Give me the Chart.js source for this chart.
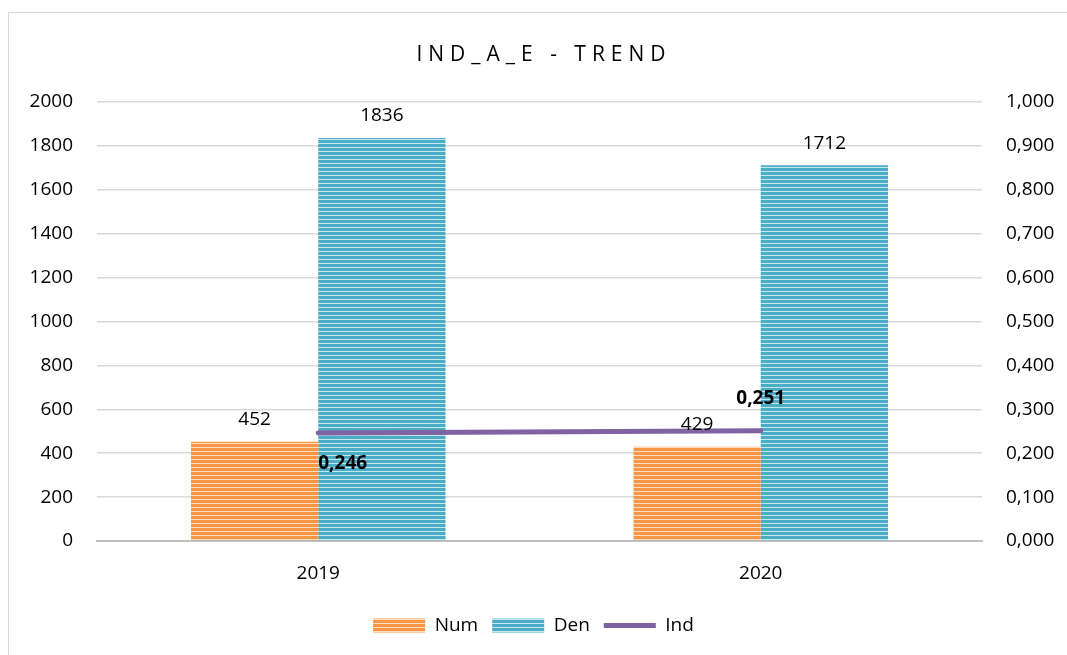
<!DOCTYPE html>
<html>
<head>
<meta charset="utf-8">
<script src="https://cdn.jsdelivr.net/npm/chart.js@4.4.1/dist/chart.umd.min.js"></script>
<style>
html,body{margin:0;padding:0;background:#fff;}
#wrap{position:relative;width:1067px;height:655px;}
</style>
</head>
<body>
<div id="wrap"><canvas id="c" width="1067" height="655"></canvas></div>
<script>
const categories = ['2019', '2020'];
const numValues = [452, 429];
const denValues = [1836, 1712];
const indValues = [0.246, 0.251];
const titleText = 'IND_A_E - TREND';

function stripes(base, light) {
  const c = document.createElement('canvas');
  c.width = 8; c.height = 4;
  const x = c.getContext('2d');
  x.fillStyle = base; x.fillRect(0, 0, 8, 4);
  x.fillStyle = light; x.fillRect(0, 3, 8, 1);
  return x.createPattern(c, 'repeat');
}
const orangePat = stripes('#F79646', '#FCDCC0');
const bluePat = stripes('#4BACC6', '#C8E8F0');

const FONT = '"Open Sans", Lato, sans-serif';
const FS = 19;
const fmt3 = v => v.toFixed(3).replace('.', ',');

const framePlugin = {
  id: 'frame',
  beforeDraw(chart) {
    const ctx = chart.ctx;
    ctx.save();
    ctx.strokeStyle = '#D9D9D9';
    ctx.lineWidth = 1;
    ctx.strokeRect(8.5, 12.5, 1080, 700);
    ctx.font = '21px ' + FONT;
    ctx.fillStyle = '#000';
    ctx.letterSpacing = '6px';
    ctx.textBaseline = 'middle';
    ctx.textAlign = 'left';
    const w = ctx.measureText(titleText).width - 6;
    ctx.fillText(titleText, 541 - w / 2, 55);
    ctx.restore();
  }
};

const labelPlugin = {
  id: 'labels',
  afterDatasetsDraw(chart) {
    const ctx = chart.ctx;
    ctx.save();
    ctx.textBaseline = 'middle';
    ctx.fillStyle = '#000';
    [0, 1].forEach(di => {
      const meta = chart.getDatasetMeta(di);
      ctx.font = FS + 'px ' + FONT;
      ctx.textAlign = 'center';
      meta.data.forEach((el, i) => {
        ctx.fillText(String(chart.data.datasets[di].data[i]), el.x, el.y - 22);
      });
    });
    const lm = chart.getDatasetMeta(2);
    ctx.font = 'bold ' + FS + 'px ' + FONT;
    lm.data.forEach((el, i) => {
      const txt = fmt3(chart.data.datasets[2].data[i]);
      if (i === 0) { ctx.textAlign = 'left'; ctx.fillText(txt, el.x, el.y + 31); }
      else { ctx.textAlign = 'center'; ctx.fillText(txt, el.x, el.y - 32); }
    });
    ctx.restore();
  }
};

new Chart(document.getElementById('c'), {
  data: {
    labels: categories,
    datasets: [
      { type: 'bar', label: 'Num', data: numValues, backgroundColor: orangePat, yAxisID: 'y', order: 1,
        categoryPercentage: 0.575, barPercentage: 1.0 },
      { type: 'bar', label: 'Den', data: denValues, backgroundColor: bluePat, yAxisID: 'y', order: 1,
        categoryPercentage: 0.575, barPercentage: 1.0 },
      { type: 'line', label: 'Ind', data: indValues, borderColor: '#8064A2', backgroundColor: '#8064A2',
        borderWidth: 5, pointRadius: 0, yAxisID: 'y1', order: 0, borderCapStyle: 'round' }
    ]
  },
  options: {
    responsive: false,
    animation: false,
    layout: { padding: { top: 102, left: 0, right: 0, bottom: 10 } },
    plugins: {
      title: { display: false },
      tooltip: { enabled: false },
      legend: {
        position: 'bottom',
        labels: {
          font: { family: FONT, size: FS },
          color: '#000',
          usePointStyle: true,
          pointStyleWidth: 52,
          boxHeight: 14,
          padding: 14,
          sort: (a, b) => a.datasetIndex - b.datasetIndex,
          generateLabels(chart) {
            return chart.data.datasets.map((ds, i) => ({
              text: ds.label,
              datasetIndex: i,
              fillStyle: ds.type === 'bar' ? ds.backgroundColor : ds.borderColor,
              strokeStyle: ds.type === 'bar' ? 'rgba(0,0,0,0)' : ds.borderColor,
              lineWidth: ds.type === 'bar' ? 0 : 5,
              pointStyle: ds.type === 'bar' ? 'rect' : 'line',
              fontColor: '#000',
              hidden: false
            }));
          }
        }
      }
    },
    scales: {
      x: {
        offset: true,
        grid: { display: false },
        border: { display: true, color: '#BFBFBF', width: 2 },
        ticks: { font: { family: FONT, size: FS }, color: '#000', padding: 13 },
        afterFit(s) { s.height = 61; }
      },
      y: {
        position: 'left',
        min: 0, max: 2000,
        ticks: { stepSize: 200, font: { family: FONT, size: FS }, color: '#000', padding: 24,
          callback: v => String(v) },
        grid: { color: '#D9D9D9', lineWidth: 1.5, tickLength: 0 },
        border: { display: false },
        afterFit(s) { s.width = 97; }
      },
      y1: {
        position: 'right',
        min: 0, max: 1,
        ticks: { stepSize: 0.1, font: { family: FONT, size: FS }, color: '#000', padding: 16,
          callback: v => fmt3(v) },
        grid: { display: false },
        border: { display: false },
        afterFit(s) { s.width = 85; }
      }
    }
  },
  plugins: [framePlugin, labelPlugin]
});
</script>
</body>
</html>
